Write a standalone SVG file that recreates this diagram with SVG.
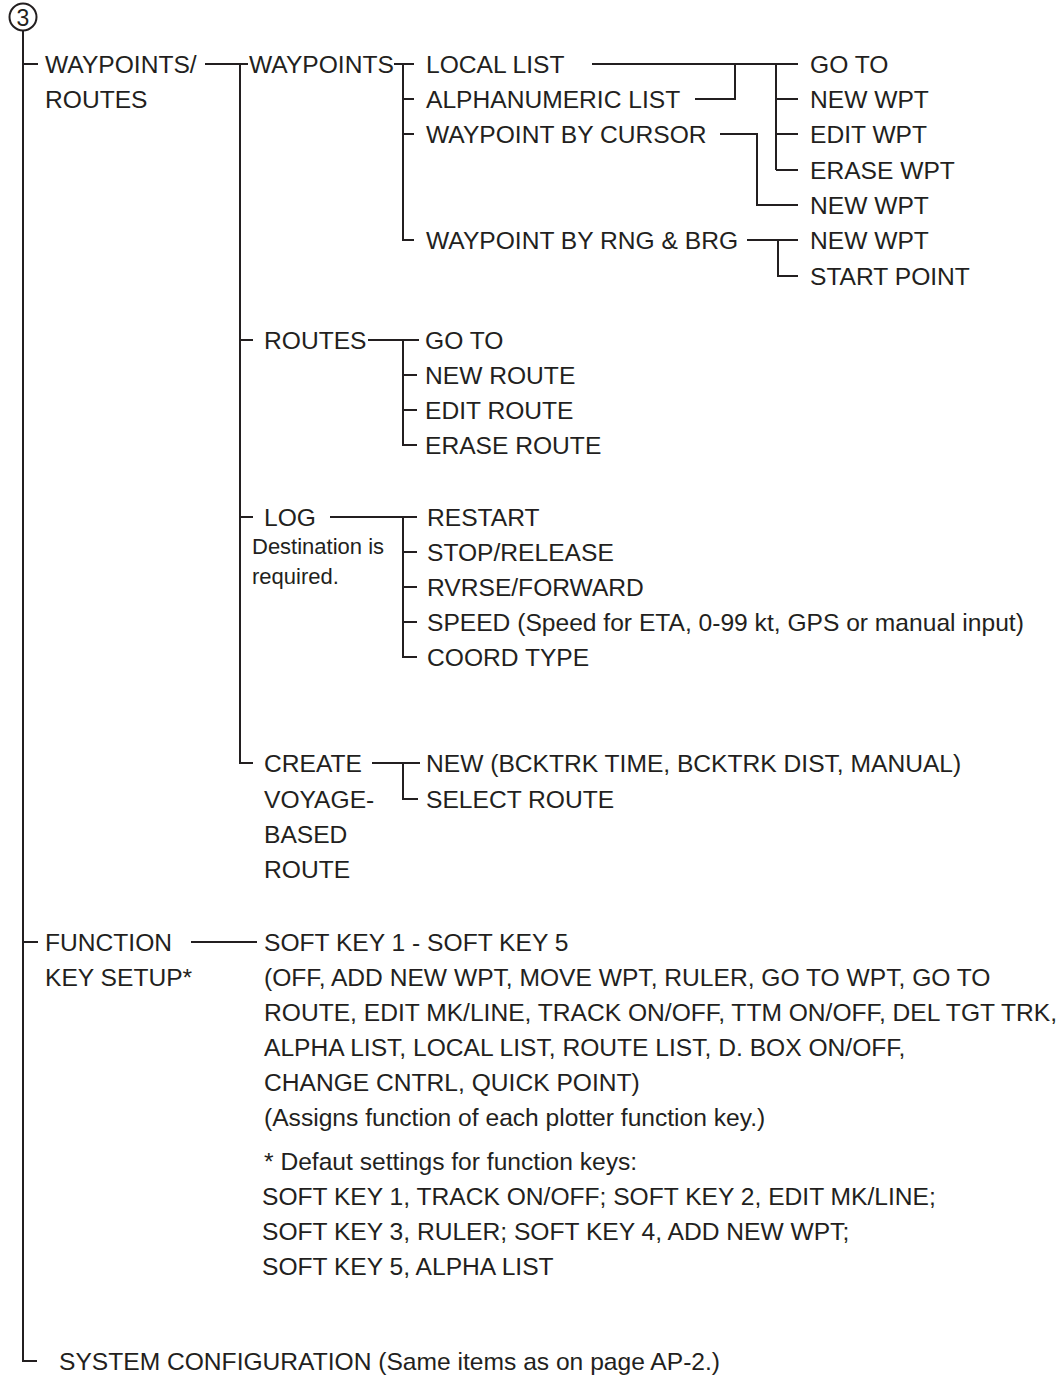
<svg xmlns="http://www.w3.org/2000/svg" width="1060" height="1389" viewBox="0 0 1060 1389">
<style>
text{font-family:"Liberation Sans",Arial,Helvetica,sans-serif;font-size:24.6px;fill:#231f20}
.s{font-size:22px}
.c{font-size:23px}
#connectors path{fill:none;stroke:#231f20;stroke-width:2}
</style>
<rect width="1060" height="1389" fill="#fff"/>
<g id="connectors">
<circle cx="23" cy="17" r="13.5" fill="none" stroke="#231f20" stroke-width="2"/>
<path d="M23 30.5V1361H37M23 64H38M23 942H38"/>
<path d="M205 64H248M240 64V763H253M240 340H253M240 517H253"/>
<path d="M394 64H414M403 64V240H414M403 99H414M403 134H414"/>
<path d="M592 64H798M695 99H735V64M776 64V170M776 99H798M776 134H798M776 170H798"/>
<path d="M720 134H757V205H798M747 240H798M778 240V276H798"/>
<path d="M368 340H419M403 340V445H417M403 375H417M403 410H417"/>
<path d="M330 517H417M403 517V657H417M403 552H417M403 587H417M403 622H417"/>
<path d="M372 763H420M403 763V799H418"/>
<path d="M191 942H257"/>
</g>
<g id="n-3"><text class="c" x="23" y="25.5" text-anchor="middle">3</text></g>
<g id="n-waypoints-routes"><text x="45" y="73">WAYPOINTS/</text><text x="45" y="108">ROUTES</text></g>
<g id="n-waypoints"><text x="249" y="73">WAYPOINTS</text></g>
<g id="n-local-list"><text x="426" y="73">LOCAL LIST</text></g>
<g id="n-alpha-list"><text x="426" y="108">ALPHANUMERIC LIST</text></g>
<g id="n-wpt-cursor"><text x="426" y="143">WAYPOINT BY CURSOR</text></g>
<g id="n-wpt-rng"><text x="426" y="249">WAYPOINT BY RNG &amp; BRG</text></g>
<g id="n-goto"><text x="810" y="73">GO TO</text></g>
<g id="n-newwpt1"><text x="810" y="108">NEW WPT</text></g>
<g id="n-editwpt"><text x="810" y="143">EDIT WPT</text></g>
<g id="n-erasewpt"><text x="810" y="179">ERASE WPT</text></g>
<g id="n-newwpt2"><text x="810" y="214">NEW WPT</text></g>
<g id="n-newwpt3"><text x="810" y="249">NEW WPT</text></g>
<g id="n-startpoint"><text x="810" y="285">START POINT</text></g>
<g id="n-routes"><text x="264" y="349">ROUTES</text></g>
<g id="n-r-goto"><text x="425" y="349">GO TO</text></g>
<g id="n-r-new"><text x="425" y="384">NEW ROUTE</text></g>
<g id="n-r-edit"><text x="425" y="419">EDIT ROUTE</text></g>
<g id="n-r-erase"><text x="425" y="454">ERASE ROUTE</text></g>
<g id="n-log"><text x="264" y="526">LOG</text><text class="s" x="252" y="554">Destination is</text><text class="s" x="252" y="584">required.</text></g>
<g id="n-restart"><text x="427" y="526">RESTART</text></g>
<g id="n-stop"><text x="427" y="561">STOP/RELEASE</text></g>
<g id="n-rvrse"><text x="427" y="596">RVRSE/FORWARD</text></g>
<g id="n-speed"><text x="427" y="631">SPEED (Speed for ETA, 0-99 kt, GPS or manual input)</text></g>
<g id="n-coord"><text x="427" y="666">COORD TYPE</text></g>
<g id="n-create"><text x="264" y="772">CREATE</text><text x="264" y="808">VOYAGE-</text><text x="264" y="843">BASED</text><text x="264" y="878">ROUTE</text></g>
<g id="n-new"><text x="426" y="772">NEW (BCKTRK TIME, BCKTRK DIST, MANUAL)</text></g>
<g id="n-select"><text x="426" y="808">SELECT ROUTE</text></g>
<g id="n-function"><text x="45" y="951">FUNCTION</text><text x="45" y="986">KEY SETUP*</text></g>
<g id="n-softkey">
<text x="264" y="951">SOFT KEY 1 - SOFT KEY 5</text>
<text x="264" y="986">(OFF, ADD NEW WPT, MOVE WPT, RULER, GO TO WPT, GO TO</text>
<text x="264" y="1021">ROUTE, EDIT MK/LINE, TRACK ON/OFF, TTM ON/OFF, DEL TGT TRK,</text>
<text x="264" y="1056">ALPHA LIST, LOCAL LIST, ROUTE LIST, D. BOX ON/OFF,</text>
<text x="264" y="1091">CHANGE CNTRL, QUICK POINT)</text>
<text x="264" y="1126">(Assigns function of each plotter function key.)</text>
<text x="264" y="1170">* Defaut settings for function keys:</text>
<text x="262" y="1205">SOFT KEY 1, TRACK ON/OFF; SOFT KEY 2, EDIT MK/LINE;</text>
<text x="262" y="1240">SOFT KEY 3, RULER; SOFT KEY 4, ADD NEW WPT;</text>
<text x="262" y="1275">SOFT KEY 5, ALPHA LIST</text>
</g>
<g id="n-system"><text x="59" y="1370">SYSTEM CONFIGURATION (Same items as on page AP-2.)</text></g>
</svg>
